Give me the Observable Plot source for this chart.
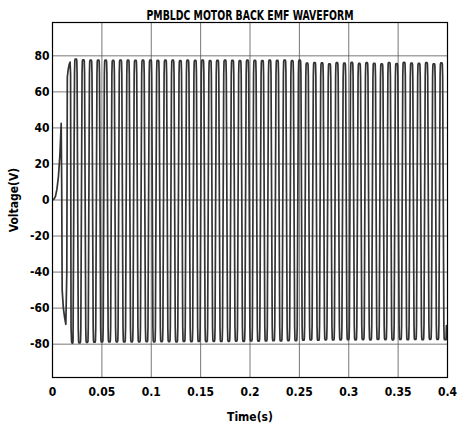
<!DOCTYPE html>
<html>
<head>
<meta charset="utf-8">
<script src="https://cdn.jsdelivr.net/npm/d3@7"></script>
<script src="https://cdn.jsdelivr.net/npm/@observablehq/plot@0.6"></script>
<style>
  html, body { margin: 0; padding: 0; background: #fff; }
</style>
</head>
<body>
<div id="chart"></div>
<script>
const title = "PMBLDC MOTOR BACK EMF WAVEFORM";
const xLabel = "Time(s)";
const yLabel = "Voltage(V)";
const xTicks = [0, 0.05, 0.1, 0.15, 0.2, 0.25, 0.3, 0.35, 0.4];
const yTicks = [-80, -60, -40, -20, 0, 20, 40, 60, 80];

// start-up transient (time s, voltage V)
const startT = [0, 0.0015, 0.003, 0.0045, 0.006, 0.0075, 0.0088, 0.0093, 0.0098, 0.0110, 0.0122, 0.0135, 0.0145, 0.0150, 0.0158, 0.0168, 0.0178, 0.0183, 0.0188, 0.0193, 0.0198, 0.0204, 0.0208];
const startV = [0, 0.5, 2, 6, 13, 25, 42.5, 10, -50, -60, -65, -69, -40, 68, 72, 75, 76.5, 70, -71, -78.5, -79.4, -79.4, -78.6];

// steady-state pulses: centre time of each positive pulse, its peak, and the following trough
const peakT = [0.0236, 0.0312, 0.0387, 0.0463, 0.0538, 0.0614, 0.0689, 0.0765, 0.0840, 0.0916,
               0.0992, 0.1067, 0.1143, 0.1218, 0.1294, 0.1369, 0.1445, 0.1520, 0.1596, 0.1671,
               0.1747, 0.1823, 0.1898, 0.1974, 0.2049, 0.2125, 0.2200, 0.2276, 0.2351, 0.2427,
               0.2503, 0.2578, 0.2654, 0.2729, 0.2805, 0.2880, 0.2956, 0.3031, 0.3107, 0.3182,
               0.3258, 0.3334, 0.3409, 0.3485, 0.3560, 0.3636, 0.3711, 0.3787, 0.3862, 0.3938];
const peakV = [78.2, 77.8, 77.6, 77.7, 77.6, 77.5, 77.7, 77.6, 77.5, 77.6,
               77.7, 77.5, 77.6, 77.6, 77.4, 77.6, 77.5, 77.7, 77.4, 77.5,
               77.6, 77.5, 77.4, 77.6, 77.5, 77.4, 77.6, 77.5, 77.7, 77.3,
               77.6, 76.0, 76.3, 76.1, 75.6, 76.2, 76.0, 76.4, 75.8, 76.2,
               75.9, 75.5, 76.3, 75.7, 76.4, 76.0, 75.8, 76.3, 75.6, 76.1];
const troughV = [-79.3, -79.0, -78.9, -78.8, -78.8, -78.7, -78.8, -78.7, -78.7, -78.6,
                 -78.7, -78.6, -78.6, -78.7, -78.5, -78.6, -78.5, -78.6, -78.4, -78.5,
                 -78.4, -78.3, -78.4, -78.2, -78.3, -78.2, -78.1, -78.2, -78.0, -78.1,
                 -77.8, -77.7, -77.8, -77.6, -77.7, -77.6, -77.5, -77.6, -77.5, -77.6,
                 -77.4, -77.5, -77.6, -77.4, -77.5, -77.4, -77.5, -77.3, -77.4, -77.5];
// one-cycle shape (fraction of period from pulse centre, fraction of peak/trough level)
const shapePhase = [-0.17, -0.13, -0.08, 0.08, 0.13, 0.17, 0.33, 0.37, 0.42, 0.58, 0.63, 0.67];
const shapeLevel = [0.9, 0.99, 1, 1, 0.99, 0.9, 0.9, 0.99, 1, 1, 0.99, 0.9];
const shapeSide  = ["p", "p", "p", "p", "p", "p", "q", "q", "q", "q", "q", "q"];

const wave = startT.map((t, i) => ({t, v: startV[i]}));
peakT.forEach((c, k) => {
  const T = k < peakT.length - 1 ? peakT[k + 1] - c : c - peakT[k - 1];
  shapePhase.forEach((ph, j) => {
    const base = shapeSide[j] === "p" ? peakV[k] : troughV[k];
    wave.push({t: c + ph * T, v: base * shapeLevel[j]});
  });
});
wave.push({t: 0.4, v: troughV[troughV.length - 1]});

const font = "'DejaVu Sans Condensed', 'DejaVu Sans', sans-serif";

const chart = Plot.plot({
  width: 457,
  height: 427,
  marginLeft: 52,
  marginRight: 10,
  marginTop: 22,
  marginBottom: 50,
  x: {domain: [0, 0.4]},
  y: {domain: [-98.5, 98.5]},
  style: {fontFamily: font, fontWeight: "bold", fontSize: "12px", background: "white", color: "black"},
  marks: [
    Plot.gridX(xTicks, {stroke: "#555", strokeOpacity: 1, strokeWidth: 0.8}),
    Plot.gridY(yTicks, {stroke: "#555", strokeOpacity: 1, strokeWidth: 0.8}),
    Plot.line(wave, {x: "t", y: "v", stroke: "#333", strokeWidth: 1.7, clip: true}),
    Plot.frame({stroke: "black", strokeWidth: 1.2}),
    Plot.axisX(xTicks, {tickSize: 0, tickPadding: 10, tickFormat: d => String(d), fontSize: 12, fontWeight: "bold",
      label: xLabel, labelAnchor: "center", labelOffset: 43, labelArrow: "none"}),
    Plot.axisY(yTicks, {tickSize: 0, tickPadding: 3, tickFormat: d => String(d), fontSize: 12, fontWeight: "bold",
      label: yLabel, labelAnchor: "center", labelOffset: 43, labelArrow: "none"}),
    Plot.text([title], {text: d => d, frameAnchor: "top", dy: -12, fontSize: 13.5, fontWeight: "bold", className: "chart-title"})
  ]
});
document.getElementById("chart").appendChild(chart);
// fit the title to the reference's width
chart.querySelectorAll("g.chart-title text, .chart-title text").forEach(t => {
  t.setAttribute("textLength", 207);
  t.setAttribute("lengthAdjust", "spacingAndGlyphs");
});
</script>
</body>
</html>
